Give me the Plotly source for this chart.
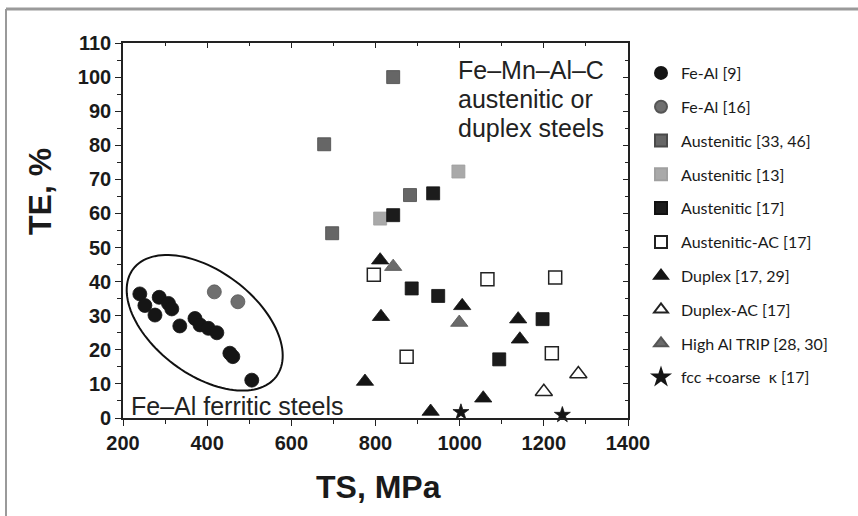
import numpy as np
import plotly.graph_objects as go

# ---------------- data ----------------
fe_al9_ts = [240, 252, 276, 286, 308, 316, 335, 371, 383, 403, 423, 454, 461, 506]
fe_al9_te = [36.4, 33.0, 30.2, 35.4, 33.6, 32.0, 27.0, 29.2, 27.3, 26.3, 25.0, 19.0, 18.0, 11.1]

fe_al16_ts = [417, 473]
fe_al16_te = [37.0, 34.1]

aust3346_ts = [842, 678, 697, 882]
aust3346_te = [100.0, 80.3, 54.2, 65.4]

aust13_ts = [997, 811]
aust13_te = [72.3, 58.5]

aust17_ts = [842, 937, 886, 949, 1197, 1094]
aust17_te = [59.5, 65.9, 38.0, 35.8, 29.0, 17.2]

austac_ts = [796, 1066, 1227, 874, 1219]
austac_te = [42.0, 40.7, 41.2, 18.0, 19.0]

duplex_ts = [811, 813, 775, 1006, 1139, 1143, 1056, 931]
duplex_te = [46.3, 29.7, 10.7, 32.9, 29.0, 23.1, 5.8, 1.9]

duplexac_ts = [1282, 1200]
duplexac_te = [12.9, 7.7]

trip_ts = [842, 999]
trip_te = [44.4, 28.0]

fcc_ts = [1003, 1244]
fcc_te = [1.7, 0.9]

x_ticks = [200, 400, 600, 800, 1000, 1200, 1400]
y_ticks = list(range(0, 111, 10))

# ---------------- layout geometry ----------------
W, H = 858, 516
ML, MR, MT, MB = 123, 230, 43, 98
PW, PH = W - ML - MR, H - MT - MB
XR, YR = [200, 1400], [0, 110]
sx = PW / (XR[1] - XR[0])
sy = PH / (YR[1] - YR[0])

series = [
    ("Fe-Al [9]", fe_al9_ts, fe_al9_te, "circle", 14, "#151515", "#151515"),
    ("Fe-Al [16]", fe_al16_ts, fe_al16_te, "circle", 14, "#6f6f6f", "#555555"),
    ("Austenitic [33, 46]", aust3346_ts, aust3346_te, "square", 13, "#666666", "#4a4a4a"),
    ("Austenitic [13]", aust13_ts, aust13_te, "square", 13, "#a9a9a9", "#a0a0a0"),
    ("Austenitic [17]", aust17_ts, aust17_te, "square", 13, "#1c1c1c", "#111111"),
    ("Austenitic-AC [17]", austac_ts, austac_te, "square-open", 13, "#222222", "#222222"),
    ("Duplex [17, 29]", duplex_ts, duplex_te, "triangle-up", 15, "#151515", "#151515"),
    ("Duplex-AC [17]", duplexac_ts, duplexac_te, "triangle-up-open", 15, "#222222", "#222222"),
    ("High Al TRIP [28, 30]", trip_ts, trip_te, "triangle-up", 15, "#6a6a6a", "#555555"),
    ("fcc +coarse  \u03ba [17]", fcc_ts, fcc_te, "star", 12, "#151515", "#151515"),
]

fig = go.Figure()
for i, (name, xs, ys, sym, size, col, lcol) in enumerate(series):
    fig.add_trace(go.Scatter(
        x=xs, y=ys, mode="markers", name=name, legendgroup=f"g{i}",
        cliponaxis=False,
        marker=dict(symbol=sym, size=size, color=col,
                    line=dict(color=lcol, width=1.5 if "open" in sym else 0.8)),
    ))

# dummy trace for the mirrored top/right axes
fig.add_trace(go.Scatter(x=[None], y=[None], xaxis="x2", yaxis="y2",
                         showlegend=False, hoverinfo="skip"))

# ellipse around Fe-Al ferritic steels (defined in pixel geometry)
cx_px, cy_px = 204.7 - ML, 418 - 322.8
a_px, b_px, th = 89.5, 51.7, np.deg2rad(36.9)
t = np.linspace(0, 2 * np.pi, 121)
ex = a_px * np.cos(t) * np.cos(th) - b_px * np.sin(t) * np.sin(th)
ey = a_px * np.cos(t) * np.sin(th) + b_px * np.sin(t) * np.cos(th)
ell_x = XR[0] + (cx_px + ex) / sx
ell_y = YR[0] + (cy_px - ey) / sy
path = "M " + " L ".join(f"{x:.2f},{y:.3f}" for x, y in zip(ell_x, ell_y)) + " Z"

tickfont = dict(family="Liberation Sans, Arial", size=20,
                color="#1a1a1a", weight="bold")
common = dict(showline=True, linecolor="#222222", linewidth=1.6, showgrid=False,
              zeroline=False, ticks="outside", ticklen=6, tickwidth=1.4, tickcolor="#222222")

fig.update_layout(
    width=W, height=H,
    margin=dict(l=ML, r=MR, t=MT, b=MB),
    paper_bgcolor="white", plot_bgcolor="white",
    xaxis=dict(range=XR, tickvals=x_ticks, tickfont=tickfont,
               minor=dict(dtick=100, ticks="outside", ticklen=4, tickcolor="#222222"),
               **common),
    yaxis=dict(range=YR, tickvals=y_ticks, tickfont=tickfont,
               minor=dict(dtick=5, ticks="outside", ticklen=4, tickcolor="#222222"),
               **common),
    xaxis2=dict(range=XR, overlaying="x", side="top", anchor="y", showline=True,
                linecolor="#222222", linewidth=1.6, showgrid=False, zeroline=False,
                ticks="inside", ticklen=5, tickwidth=1.4, tickcolor="#222222",
                tickvals=x_ticks, showticklabels=False,
                minor=dict(dtick=100, ticks="inside", ticklen=3, tickcolor="#222222")),
    yaxis2=dict(range=YR, overlaying="y", side="right", anchor="x", showline=True,
                linecolor="#222222", linewidth=1.6, showgrid=False, zeroline=False,
                ticks="inside", ticklen=5, tickwidth=1.4, tickcolor="#222222",
                tickvals=y_ticks, showticklabels=False,
                minor=dict(dtick=5, ticks="inside", ticklen=3, tickcolor="#222222")),
    showlegend=True,
    legend=dict(x=(641 - ML) / PW, xanchor="left", y=(418 - 56) / PH, yanchor="top",
                traceorder="grouped", tracegroupgap=10, itemsizing="constant",
                font=dict(family="Lato, Noto Sans, Open Sans", size=16, color="#1a1a1a"),
                bgcolor="rgba(0,0,0,0)"),
    shapes=[
        dict(type="path", path=path, xref="x", yref="y",
             line=dict(color="#111111", width=2), fillcolor="rgba(0,0,0,0)"),
        dict(type="line", xref="paper", yref="paper",
             x0=(6 - ML) / PW, x1=(W - ML) / PW, y0=(418 - 9) / PH, y1=(418 - 9) / PH,
             line=dict(color="#9a9a9a", width=3)),
        dict(type="line", xref="paper", yref="paper",
             x0=(6 - ML) / PW, x1=(6 - ML) / PW, y0=(418 - 9) / PH, y1=(418 - H) / PH,
             line=dict(color="#9a9a9a", width=2)),
    ],
)

txt = dict(family="Liberation Sans, Arial", size=25, color="#222222")
ann = [
    dict(text="Fe\u2013Mn\u2013Al\u2013C", x=(456 - ML) / PW, y=(418 - 70) / PH),
    dict(text="austenitic or", x=(456 - ML) / PW, y=(418 - 99) / PH),
    dict(text="duplex steels", x=(456 - ML) / PW, y=(418 - 128) / PH),
    dict(text="Fe\u2013Al ferritic steels", x=(129 - ML) / PW, y=(418 - 406) / PH),
]
for a in ann:
    fig.add_annotation(xref="paper", yref="paper", xanchor="left", yanchor="middle",
                       showarrow=False, font=txt, **a)

titlefont = dict(family="Liberation Sans, Arial", size=32,
                 color="#1a1a1a", weight="bold")
fig.add_annotation(text="TS, MPa", xref="paper", yref="paper", x=(378 - ML) / PW,
                   y=(418 - 487) / PH, xanchor="center", yanchor="middle",
                   showarrow=False, font=titlefont)
fig.add_annotation(text="TE, %", xref="paper", yref="paper", x=(40 - ML) / PW,
                   y=(418 - 192) / PH, xanchor="center", yanchor="middle",
                   textangle=-90, showarrow=False, font=titlefont)

fig.write_html("out.html")
